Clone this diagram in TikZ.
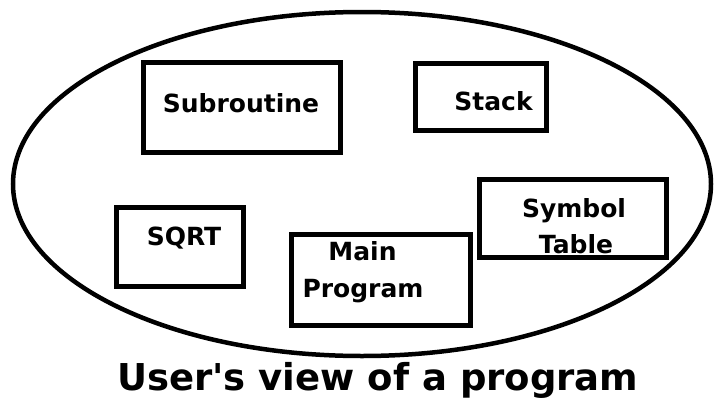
\documentclass[tikz,border=0pt]{standalone}
\usepackage{fontspec}
\setmainfont{DejaVu Sans}
\usetikzlibrary{shapes.geometric}
\begin{document}
\begin{tikzpicture}[x=1pt,y=-1pt,
  boxnode/.style={draw=black,line width=4.5pt,rectangle,inner sep=0pt},
  lbl/.style={anchor=base,inner sep=0pt,font=\bfseries\fontsize{25}{30}\selectfont},
  captionstyle/.style={anchor=base west,inner sep=0pt,font=\bfseries\fontsize{37}{44}\selectfont}]
\useasboundingbox (0,0) rectangle (715,399);
\node[draw=black,line width=4.5pt,ellipse,inner sep=0pt,minimum width=698pt,minimum height=344pt] (world) at (362,184) {};
\node[boxnode,minimum width=197pt,minimum height=90pt] (sub) at (242,107.5) {};
\node[boxnode,minimum width=131pt,minimum height=67pt] (stack) at (481,97) {};
\node[boxnode,minimum width=187pt,minimum height=78pt] (sym) at (573,218.5) {};
\node[boxnode,minimum width=127pt,minimum height=79pt] (sqrt) at (180,247) {};
\node[boxnode,minimum width=179pt,minimum height=91pt] (main) at (381,280) {};
\node[lbl] (tsub) at (241,112) {Subroutine};
\node[lbl] (tstack) at (493.5,110) {Stack};
\node[lbl] (tsqrt) at (184,245) {SQRT};
\node[lbl] (tsym1) at (574,217) {Symbol};
\node[lbl] (tsym2) at (576,253) {Table};
\node[lbl] (tmain1) at (362.5,260) {Main};
\node[lbl] (tmain2) at (363,297) {Program};
\node[captionstyle] (caption) at (117,390) {User\textquotesingle s view of a program};
\end{tikzpicture}
\end{document}
